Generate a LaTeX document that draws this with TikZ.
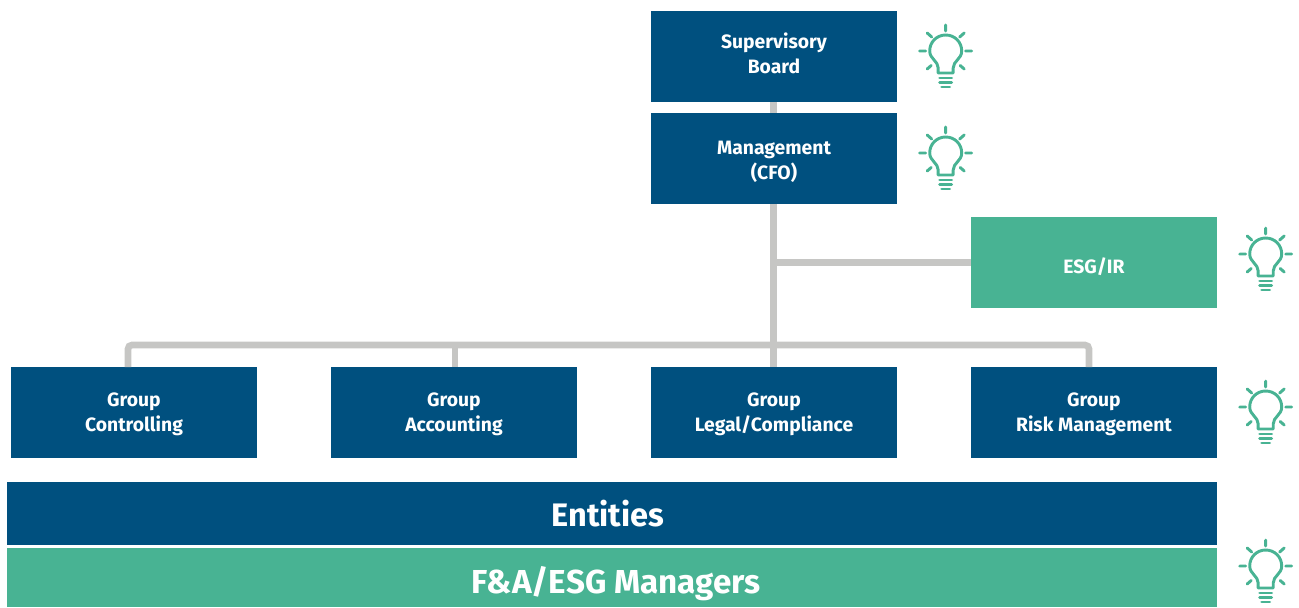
\documentclass[tikz,border=0pt]{standalone}
\usepackage{fontspec}
\setmainfont{Fira Sans}
\definecolor{navy}{HTML}{00507F}
\definecolor{teal}{HTML}{48B393}
\definecolor{wire}{HTML}{C6C6C4}
\tikzset{
  x=0.75pt,y=-0.75pt,
  base/.style={inner sep=0pt,outer sep=0pt},
  smallbox/.style={base,minimum width=184.5pt,minimum height=68.25pt},
  navybox/.style={smallbox,fill=navy},
  tealbox/.style={smallbox,fill=teal},
  band/.style={base,minimum width=907.5pt},
  boxtext/.style={base,text=white,align=center,font=\bfseries\fontsize{14.5pt}{18.75pt}\selectfont},
  bandtext/.style={base,text=white,align=center,font=\bfseries\fontsize{24.4pt}{28pt}\selectfont},
  wireline/.style={draw=wire,line width=5pt},
  bulbline/.style={draw=teal,line width=2.2pt,line cap=round,line join=round},
  pics/bulb/.style={code={
    \draw[bulbline] (-7.5,22) -- (-7.5,17) .. controls (-7.5,10) and (-16,8) .. (-16,0)
      .. controls (-16,-9) and (-9,-16) .. (0,-16)
      .. controls (9,-16) and (16,-9) .. (16,0)
      .. controls (16,8) and (7.5,10) .. (7.5,17) -- (7.5,22) -- cycle;
    \draw[bulbline] (-6,27) -- (6,27) (-6,31.5) -- (6,31.5) (-4,36) -- (4,36);
    \draw[bulbline] (0,-26) -- (0,-20) (-26,0) -- (-20,0) (20,0) -- (26,0)
      (-18.5,-18) -- (-14,-14) (18.5,-18) -- (14,-14)
      (-18.5,18) -- (-14.5,14.5) (18.5,18) -- (14.5,14.5);
  }}
}
\begin{document}
\begin{tikzpicture}
\useasboundingbox (0,0) rectangle (1299,607);
% boxes
\node[navybox] (sb) at (774,56.5) {};
\node[navybox] (mg) at (774,158.5) {};
\node[tealbox] (esg) at (1094,262.5) {};
\node[navybox] (gc) at (134,412.5) {};
\node[navybox] (ga) at (454,412.5) {};
\node[navybox] (gl) at (774,412.5) {};
\node[navybox] (gr) at (1094,412.5) {};
\node[band,fill=navy,minimum height=47.25pt] (ent) at (612,513.5) {};
\node[band,fill=teal,minimum height=44.25pt] (fa) at (612,577.5) {};
% box texts
\node[boxtext] (sbt) at ([yshift=2.25pt]sb.center) {Supervisory\\Board};
\node[boxtext] (mgt) at ([yshift=-2.25pt]mg.center) {Management\\(CFO)};
\node[boxtext] (esgt) at ([yshift=-3pt]esg.center) {ESG/IR};
\node[boxtext] (gct) at ([yshift=-1.5pt]gc.center) {Group\\Controlling};
\node[boxtext] (gat) at ([yshift=-1.5pt]ga.center) {Group\\Accounting};
\node[boxtext] (glt) at ([yshift=-1.5pt]gl.center) {Group\\Legal/Compliance};
\node[boxtext] (grt) at ([yshift=-1.5pt]gr.center) {Group\\Risk Management};
\node[bandtext] (entt) at ([xshift=-3pt]ent.center) {Entities};
\node[bandtext,font=\bfseries\fontsize{24.9pt}{28pt}\selectfont] (fat) at ([xshift=3pt,yshift=-4.5pt]fa.center) {F\&A/ESG Managers};
% connector anchors
\coordinate (jc) at (773.5,262.5);
\coordinate (bl) at (128,367);
\coordinate (bn) at (128,345);
\coordinate (ba) at (455,345);
\coordinate (bat) at (455,367);
\coordinate (br) at (1089,345);
\coordinate (brt) at (1089,367);
% connectors
\draw[wireline] (sb.south -| jc) -- (mg.north -| jc);
\draw[wireline] (mg.south -| jc) -- (gl.north -| jc);
\draw[wireline] (jc) -- (esg.west |- jc);
\draw[wireline,rounded corners=3pt] (bl) -- (bn) -- (br) -- (brt);
\draw[wireline] (ba) -- (bat);
% bulbs
\pic at (945.7,51) {bulb};
\pic at (945.7,153) {bulb};
\pic at (1265.7,254) {bulb};
\pic at (1265.7,407) {bulb};
\pic at (1265.7,566) {bulb};
\end{tikzpicture}
\end{document}
